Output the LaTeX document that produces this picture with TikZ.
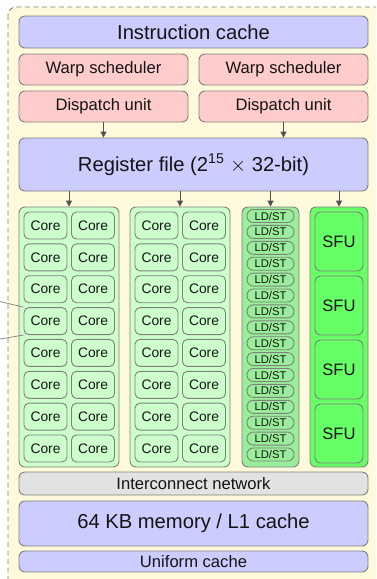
\documentclass[tikz,border=0pt]{standalone}
\usepackage{fontspec}
\setmainfont{Liberation Sans}
\usetikzlibrary{arrows.meta}

\definecolor{smbg}{RGB}{255,250,220}
\definecolor{blueunit}{RGB}{204,204,255}
\definecolor{redunit}{RGB}{255,204,204}
\definecolor{coregreen}{RGB}{204,255,204}
\definecolor{ldstgreen}{RGB}{153,238,153}
\definecolor{sfugreen}{RGB}{102,255,102}
\definecolor{netgray}{RGB}{226,226,226}
\definecolor{edgegray}{RGB}{128,128,128}
\definecolor{arrowgray}{RGB}{80,80,80}
\definecolor{inktext}{RGB}{20,20,20}

\tikzset{
  unit/.style={draw=edgegray, line width=0.9pt, rounded corners=6pt,
    inner sep=0pt, text=inktext},
  bigtext/.style={font=\fontsize{20.2}{24}\selectfont},
  midtext/.style={font=\fontsize{16.6}{20}\selectfont},
  coretext/.style={font=\fontsize{13.8}{16}\selectfont},
  ldsttext/.style={font=\fontsize{11.2}{13}\selectfont},
  feed/.style={draw=arrowgray, line width=1pt,
    -{Triangle[length=6pt,width=6pt]}},
  zoomline/.style={draw=edgegray, line width=0.7pt},
}

\begin{document}
\begin{tikzpicture}[x=1pt, y=-1pt]
  \clip (0,0) rectangle (376,579);
  \useasboundingbox (0,0) rectangle (376,579);

  % streaming multiprocessor outline
  \draw[fill=smbg, draw=edgegray, line width=0.9pt, dash pattern=on 5pt off 3.5pt,
        rounded corners=8pt] (8,7) rectangle (400,600);

  % front end
  \node[unit, fill=blueunit, bigtext, minimum width=349pt, minimum height=32pt]
    (icache) at (193.5,32) {Instruction cache};
  \node[unit, fill=redunit, midtext, minimum width=169pt, minimum height=31pt]
    (ws1) at (103.5,69.5) {Warp scheduler};
  \node[unit, fill=redunit, midtext, minimum width=169pt, minimum height=31pt]
    (ws2) at (283.5,69.5) {Warp scheduler};
  \node[unit, fill=redunit, midtext, minimum width=169pt, minimum height=31pt]
    (du1) at (103.5,106.5) {Dispatch unit};
  \node[unit, fill=redunit, midtext, minimum width=169pt, minimum height=31pt]
    (du2) at (283.5,106.5) {Dispatch unit};
  \node[unit, fill=blueunit, bigtext, minimum width=349pt, minimum height=53pt]
    (reg) at (193.5,164.5) {Register file (2\textsuperscript{15} $\times$ 32-bit)};

  % execution blocks
  \node[unit, fill=coregreen, minimum width=100pt, minimum height=260pt]
    (blkA) at (69,337) {};
  \node[unit, fill=coregreen, minimum width=100pt, minimum height=260pt]
    (blkB) at (180,337) {};
  \node[unit, fill=ldstgreen, minimum width=57pt, minimum height=260pt]
    (blkL) at (270.5,337) {};
  \node[unit, fill=sfugreen, minimum width=58pt, minimum height=260pt]
    (blkS) at (339,337) {};

  % cores
  \foreach \r in {1,...,8} {
    \pgfmathsetmacro{\cy}{225.5+(\r-1)*31.86}
    \node[unit, fill=coregreen, coretext, rounded corners=5pt,
          minimum width=43pt, minimum height=27pt] (a\r-1) at (45.5,\cy) {Core};
    \node[unit, fill=coregreen, coretext, rounded corners=5pt,
          minimum width=43pt, minimum height=27pt] (a\r-2) at (93,\cy) {Core};
    \node[unit, fill=coregreen, coretext, rounded corners=5pt,
          minimum width=43pt, minimum height=27pt] (b\r-1) at (156.5,\cy) {Core};
    \node[unit, fill=coregreen, coretext, rounded corners=5pt,
          minimum width=43pt, minimum height=27pt] (b\r-2) at (204,\cy) {Core};
  }

  % load/store units
  \foreach \r in {1,...,16} {
    \pgfmathsetmacro{\ly}{216+(\r-1)*15.9}
    \node[unit, fill=ldstgreen, ldsttext, rounded corners=6.4pt,
          minimum width=47pt, minimum height=13pt] (ls\r) at (270.5,\ly) {LD/ST};
  }

  % special function units
  \foreach \r in {1,...,4} {
    \pgfmathsetmacro{\sy}{241.5+(\r-1)*64}
    \node[unit, fill=sfugreen, midtext, minimum width=48pt, minimum height=59pt]
      (sf\r) at (339,\sy) {SFU};
  }

  % back end
  \node[unit, fill=netgray, midtext, minimum width=349pt, minimum height=23pt]
    (net) at (193.5,483.5) {Interconnect network};
  \node[unit, fill=blueunit, bigtext, minimum width=349pt, minimum height=45pt]
    (mem) at (193.5,523.5) {64 KB memory / L1 cache};
  \node[unit, fill=blueunit, midtext, minimum width=349pt, minimum height=21pt]
    (ucache) at (193.5,561.5) {Uniform cache};

  % data flow
  \draw[feed] (du1.south) -- (du1.south |- reg.north);
  \draw[feed] (du2.south) -- (du2.south |- reg.north);
  \draw[feed] (reg.south -| blkA.north) -- (blkA.north);
  \draw[feed] (reg.south -| blkB.north) -- (blkB.north);
  \draw[feed] (reg.south -| blkL.north) -- (blkL.north);
  \draw[feed] (reg.south -| blkS.north) -- (blkS.north);

  % magnification lines toward a single core
  \coordinate (zTop) at (-20,296.8);
  \coordinate (zBot) at (-20,342.4);
  \draw[zoomline] (zTop) -- (a4-1.north west);
  \draw[zoomline] (zBot) -- (a4-1.south west);
\end{tikzpicture}
\end{document}
